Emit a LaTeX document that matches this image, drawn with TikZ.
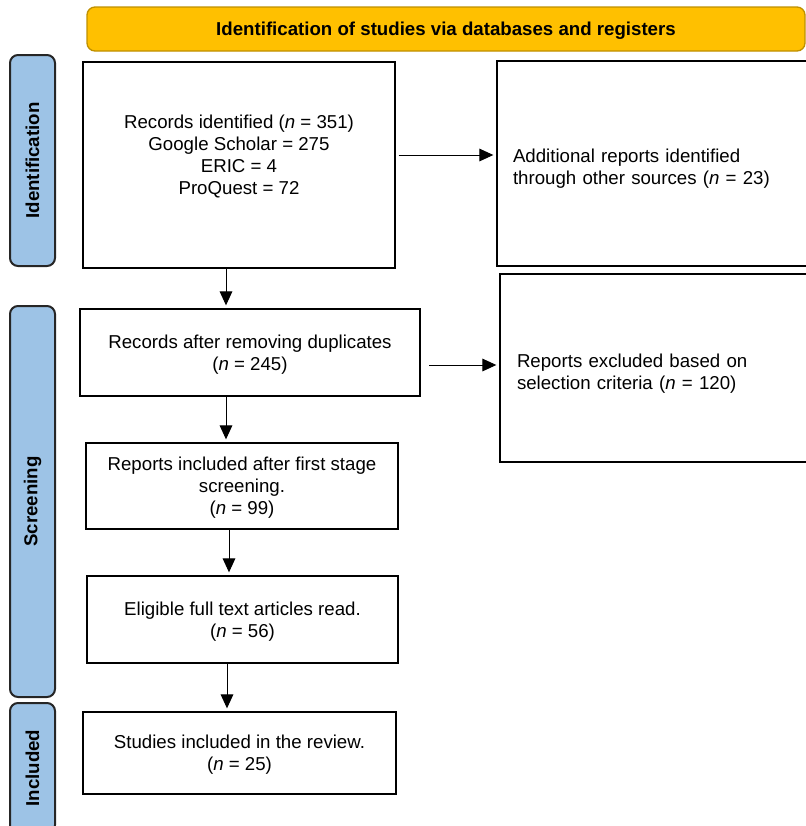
\documentclass[tikz,border=0pt]{standalone}
\usepackage{fontspec}
\setmainfont{Liberation Sans}
\usetikzlibrary{positioning, arrows.meta}
\definecolor{headfill}{HTML}{FFC000}
\definecolor{headline}{HTML}{BF9000}
\definecolor{phasefill}{HTML}{9DC3E6}
\tikzset{
x=0.75pt, y=-0.75pt, % one unit is one pixel of the reference
font=\fontsize{14pt}{16.5pt}\selectfont, % text size of all nodes
box/.style={draw, line width=1.5pt, align=center, inner sep=0pt, text depth=-3.5pt}, % plain record boxes
sidebox/.style={draw, line width=1.5pt, align=left, anchor=west, inner ysep=0pt, text depth=11.5pt}, % boxes on the right
head/.style={draw=headline, fill=headfill, line width=1pt, rounded corners=6pt, text depth=-1pt, font=\fontsize{14pt}{16.5pt}\selectfont\bfseries}, % title bar
phase/.style={draw=black!85, fill=phasefill, line width=1.5pt, rounded corners=6pt, rotate=90, minimum height=33.75pt, font=\fontsize{14pt}{16.5pt}\selectfont\bfseries}, % stage bars on the left
flow/.style={-{Triangle[length=10.5pt,width=9.5pt]}, line width=0.75pt, shorten >=2pt}, % arrows between boxes
}
\begin{document}
\begin{tikzpicture}
\useasboundingbox (0,0) rectangle (806,826);

\node[head, minimum width=538.5pt, minimum height=33pt] (title) at (446,29) {Identification of studies via databases and registers};

\node[phase, minimum width=158.25pt] (idbar) at (32.5,160.5) {Identification};
\node[phase, minimum width=293.25pt] (scbar) at (32.5,501.5) {Screening};
\node[phase, minimum width=97.5pt] (inbar) at (32.5,768) {Included};

\node[box, minimum width=234pt, minimum height=154.5pt, text depth=15pt] (ident) at (239,165) {Records identified (\textit{n} = 351)\\Google Scholar = 275\\ERIC = 4\\ProQuest = 72};
\node[sidebox, minimum height=153.75pt, text width=225pt, inner xsep=12pt] (add) at (496,163.5) {Additional reports identified\\through other sources (\textit{n} = 23)};
\node[box, minimum width=255pt, minimum height=65.25pt] (dup) at (250,352.5) {Records after removing duplicates\\(\textit{n} = 245)};
\node[sidebox, minimum height=141pt, text width=225pt, inner xsep=12.75pt] (excl) at (499,368) {Reports excluded based on\\selection criteria (\textit{n} = 120)};
\node[box, minimum width=234pt, minimum height=64.5pt] (first) at (242,486) {Reports included after first stage\\screening.\\(\textit{n} = 99)};
\node[box, minimum width=233.25pt, minimum height=65.25pt] (elig) at (242.5,619.5) {Eligible full text articles read.\\(\textit{n} = 56)};
\node[box, minimum width=234.75pt, minimum height=61.5pt] (incl) at (239.5,753) {Studies included in the review.\\(\textit{n} = 25)};

\draw[flow] (226,0 |- ident.south) -- (226,0 |- dup.north);
\draw[flow, shorten <=2pt] (ident.east |- 0,155) -- (add.west |- 0,155);
\draw[flow, shorten <=6pt] (dup.east |- 0,365) -- (excl.west |- 0,365);
\draw[flow] (226,0 |- dup.south) -- (226,0 |- first.north);
\draw[flow] (229,0 |- first.south) -- (229,0 |- elig.north);
\draw[flow] (227,0 |- elig.south) -- (227,0 |- incl.north);
\end{tikzpicture}
\end{document}
